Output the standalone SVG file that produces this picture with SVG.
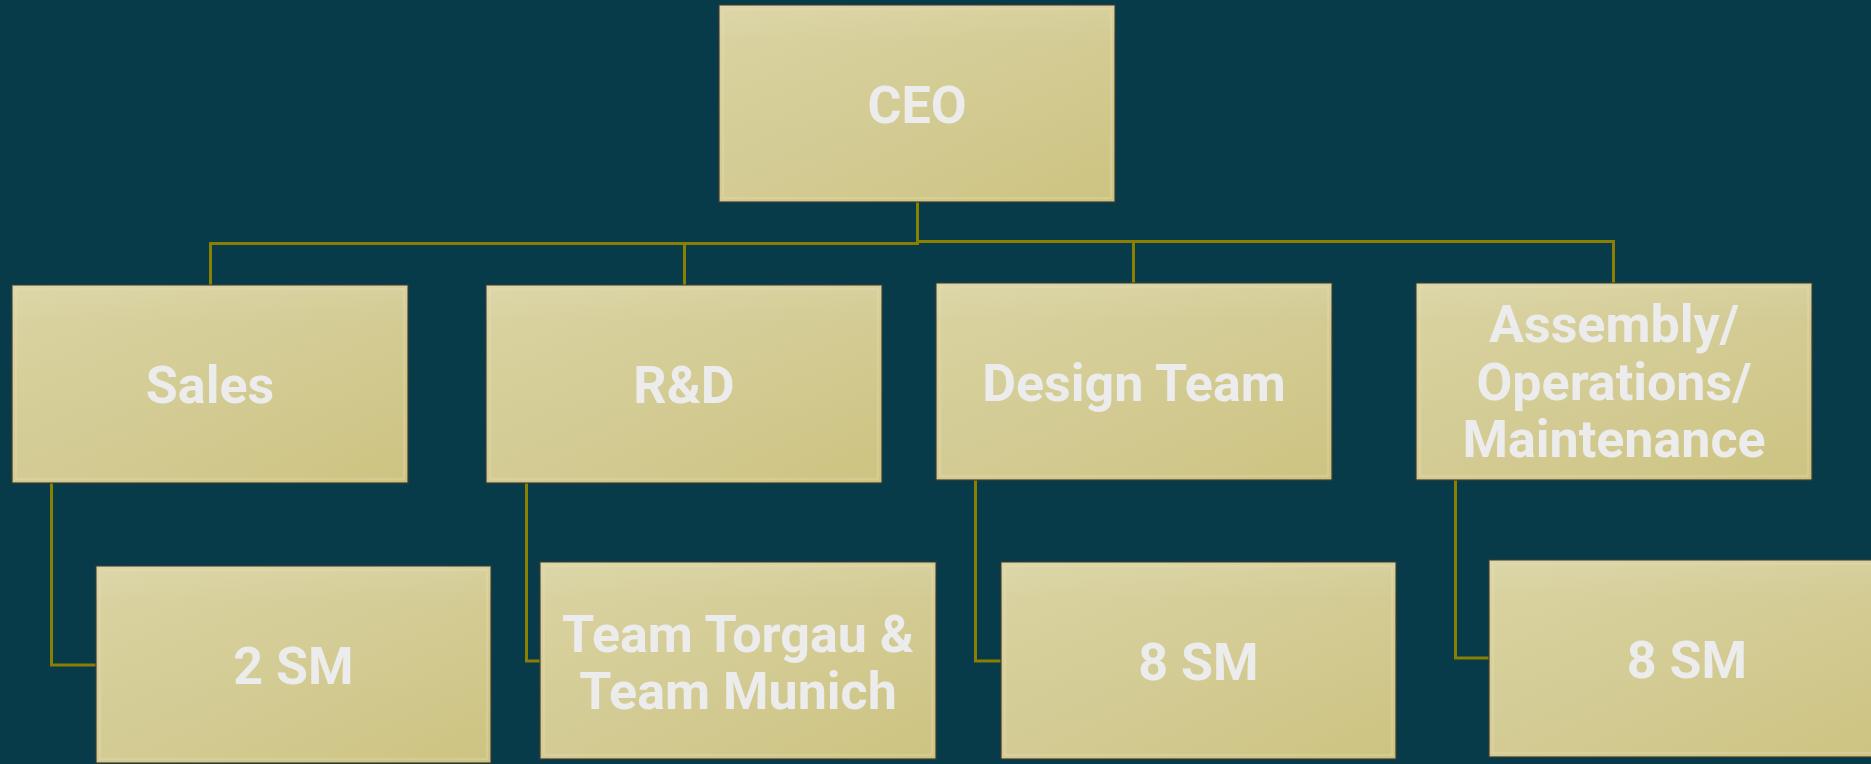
<svg xmlns="http://www.w3.org/2000/svg" width="1871" height="764" viewBox="0 0 1871 764">
  <defs>
    <linearGradient id="boxGrad" x1="0" y1="0" x2="1" y2="1">
      <stop offset="0" stop-color="#d9d2a0"/>
      <stop offset="0.5" stop-color="#d3cb93"/>
      <stop offset="1" stop-color="#cdc381"/>
    </linearGradient>
    <linearGradient id="gloss" x1="0" y1="0" x2="0" y2="1">
      <stop offset="0" stop-color="#ffffff" stop-opacity="0.10"/>
      <stop offset="0.2" stop-color="#ffffff" stop-opacity="0.02"/>
      <stop offset="1" stop-color="#ffffff" stop-opacity="0"/>
    </linearGradient>
  </defs>
  <style>
    .bg { fill: #073b4a; }
    .box { fill: url(#boxGrad); stroke: #3f3c2e; stroke-width: 1.2; }
    .gloss { fill: url(#gloss); stroke: none; }
    .bevel { fill: none; stroke: #e8e2b8; stroke-opacity: 0.4; stroke-width: 1.5; }
    .lbl { font-family: Roboto, "Liberation Sans", sans-serif; font-weight: 700; font-size: 52px; fill: #ececec; text-anchor: middle; }
    .conn { fill: none; stroke: #8a7f00; stroke-width: 3; stroke-linejoin: miter; }
  </style>
  <rect class="bg" x="0" y="0" width="1871" height="764"/>

  <g id="connectors">
    <path class="conn" d="M917.5,202 V243.5 H210.5 V285"/>
    <path class="conn" d="M684.5,243.5 V285"/>
    <path class="conn" d="M917.5,241.5 H1613.5 V283"/>
    <path class="conn" d="M1133.5,241.5 V283"/>
    <path class="conn" d="M51.5,483 V665 H96"/>
    <path class="conn" d="M526.5,483 V661 H540"/>
    <path class="conn" d="M975.5,480 V661 H1001"/>
    <path class="conn" d="M1455.5,480 V658 H1489"/>
  </g>

  <g id="ceo">
    <rect class="box" x="719" y="5" width="396" height="197"/>
    <rect class="gloss" x="719" y="5" width="396" height="197"/>
    <rect class="bevel" x="723" y="9" width="388" height="189"/>
    <text class="lbl" x="917" y="122.5">CEO</text>
  </g>

  <g id="sales">
    <rect class="box" x="12" y="285" width="396" height="198"/>
    <rect class="gloss" x="12" y="285" width="396" height="198"/>
    <rect class="bevel" x="16" y="289" width="388" height="190"/>
    <text class="lbl" x="210" y="402.5">Sales</text>
  </g>

  <g id="rnd">
    <rect class="box" x="486" y="285" width="396" height="198"/>
    <rect class="gloss" x="486" y="285" width="396" height="198"/>
    <rect class="bevel" x="490" y="289" width="388" height="190"/>
    <text class="lbl" x="684" y="402.5">R&amp;D</text>
  </g>

  <g id="design">
    <rect class="box" x="936" y="283" width="396" height="197"/>
    <rect class="gloss" x="936" y="283" width="396" height="197"/>
    <rect class="bevel" x="940" y="287" width="388" height="189"/>
    <text class="lbl" x="1134" y="400.5">Design Team</text>
  </g>

  <g id="assembly">
    <rect class="box" x="1416" y="283" width="396" height="197"/>
    <rect class="gloss" x="1416" y="283" width="396" height="197"/>
    <rect class="bevel" x="1420" y="287" width="388" height="189"/>
    <text class="lbl" x="1614" y="342">Assembly/</text>
    <text class="lbl" x="1614" y="399.5">Operations/</text>
    <text class="lbl" x="1614" y="457">Maintenance</text>
  </g>

  <g id="sales-sm">
    <rect class="box" x="96" y="566" width="395" height="197"/>
    <rect class="gloss" x="96" y="566" width="395" height="197"/>
    <rect class="bevel" x="100" y="570" width="387" height="189"/>
    <text class="lbl" x="293.5" y="683.5">2 SM</text>
  </g>

  <g id="rnd-teams">
    <rect class="box" x="540" y="562" width="396" height="197"/>
    <rect class="gloss" x="540" y="562" width="396" height="197"/>
    <rect class="bevel" x="544" y="566" width="388" height="189"/>
    <text class="lbl" x="738" y="651.5">Team Torgau &amp;</text>
    <text class="lbl" x="738" y="708.5">Team Munich</text>
  </g>

  <g id="design-sm">
    <rect class="box" x="1001" y="562" width="395" height="197"/>
    <rect class="gloss" x="1001" y="562" width="395" height="197"/>
    <rect class="bevel" x="1005" y="566" width="387" height="189"/>
    <text class="lbl" x="1198.5" y="679.5">8 SM</text>
  </g>

  <g id="assembly-sm">
    <rect class="box" x="1489" y="560" width="396" height="197"/>
    <rect class="gloss" x="1489" y="560" width="396" height="197"/>
    <rect class="bevel" x="1493" y="564" width="388" height="189"/>
    <text class="lbl" x="1687" y="677.5">8 SM</text>
  </g>
</svg>
